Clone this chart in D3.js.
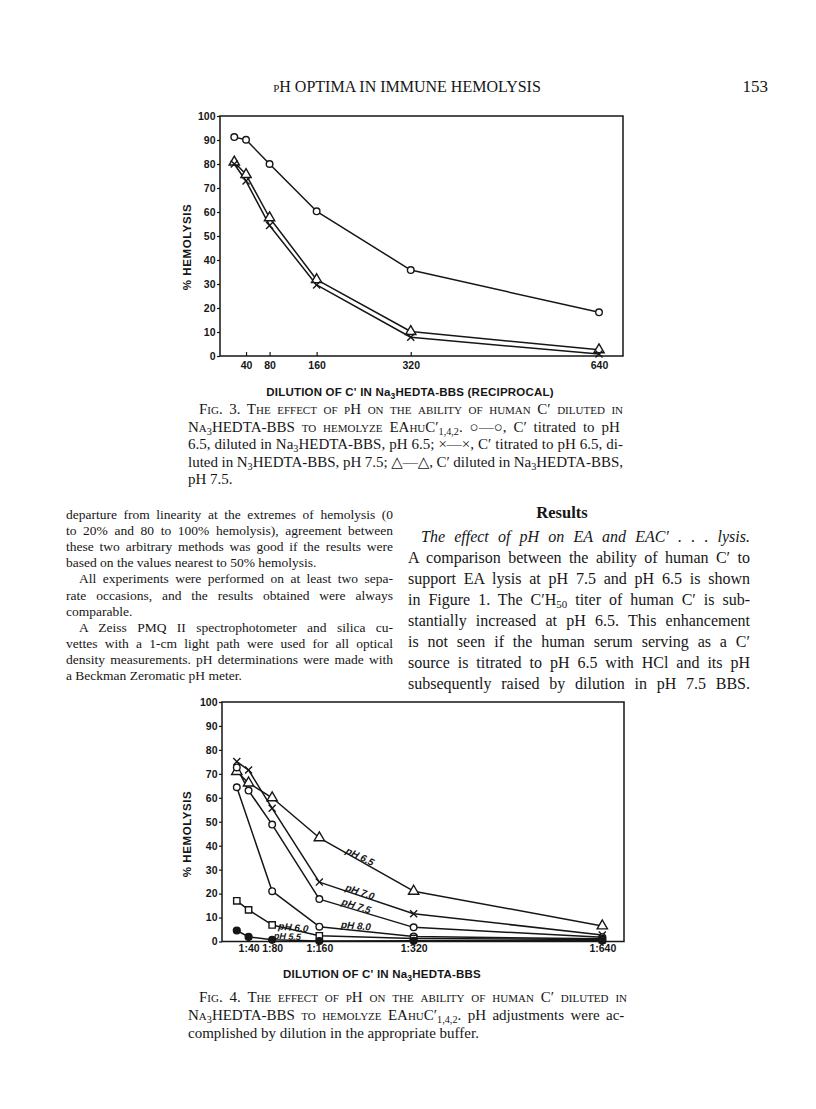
<!DOCTYPE html>
<html>
<head>
<meta charset="utf-8">
<script src="https://cdn.jsdelivr.net/npm/d3@7"></script>
<style>
body { margin: 0; background: #fff; }
svg { display: block; }
</style>
</head>
<body>
<div id="graphic"></div>
<script>
//fig 3 data: reciprocal dilution vs % hemolysis
var fig3Dilution = [20, 40, 80, 160, 320, 640];
var fig3Circle = [91.2, 90.1, 80, 60.3, 35.8, 18.2];     // C' pH 6.5 in pH 6.5 buffer
var fig3Cross = [80, 72.9, 54.4, 29.6, 7.8, 0.8];        // C' pH 6.5 in pH 7.5 buffer
var fig3Triangle = [80.8, 75.6, 57.6, 31.8, 10.2, 2.6];  // C' in pH 7.5 buffer
var fig3Ticks = [40, 80, 160, 320, 640];

//fig 4 data, one list per pH
var fig4Dilution = [20, 40, 80, 160, 320, 640];
var ph65 = [71, 66.2, 60, 43.3, 21, 6.5];
var ph70 = [75.1, 71.6, 55.6, 24.8, 11.6, 2.7];
var ph75 = [72.7, 63, 48.8, 17.7, 5.9, 1.8];
var ph80 = [64.4, null, 21, 6.2, 2.1, 1.1];
var ph60 = [17, 13.2, 6.9, 2.4, 1.3, 0.8];
var ph55 = [4.6, 1.9, 0.7, 0.2, 0.3, 0.4];
var fig4Ticks = [40, 80, 160, 320, 640];
var fig4Names = ["pH 6.5", "pH 7.0", "pH 7.5", "pH 8.0", "pH 6.0", "pH 5.5"];
//where each curve label sits (dilution, %) and its tilt
var fig4LabelAt = [[229, 35.5], [229, 20.7], [223, 14.9], [222, 6.6], [116, 5.9], [106, 2.2]];
var fig4LabelTilt = [26, 19, 18, 5, 6, 3];

var hemolysisTicks = [0, 10, 20, 30, 40, 50, 60, 70, 80, 90, 100];

//page text
var header = "pH OPTIMA IN IMMUNE HEMOLYSIS";
var pageNo = "153";
var fig3Caption = [
    [["Fig. 3. The effect of pH on the ability of human C′ diluted in", "sc"]],
    [["Na", "sc"], ["3", "sub"], ["HEDTA-BBS to hemolyze EAhuC′", "sc"], ["1,4,2", "sub"], [".  ○—○, C′ titrated to pH", "n"]],
    [["6.5, diluted in Na", "n"], ["3", "sub"], ["HEDTA-BBS, pH 6.5; ×—×, C′ titrated to pH 6.5, di-", "n"]],
    [["luted in N", "n"], ["3", "sub"], ["HEDTA-BBS, pH 7.5; △—△, C′ diluted in Na", "n"], ["3", "sub"], ["HEDTA-BBS,", "n"]],
    [["pH 7.5.", "n"]]
];
var fig4Caption = [
    [["Fig. 4. The effect of pH on the ability of human C′ diluted in", "sc"]],
    [["Na", "sc"], ["3", "sub"], ["HEDTA-BBS to hemolyze EAhuC′", "sc"], ["1,4,2", "sub"], [".  pH adjustments were ac-", "n"]],
    [["complished by dilution in the appropriate buffer.", "n"]]
];
var leftColumn = [
    "departure from linearity at the extremes of hemolysis (0",
    "to 20% and 80 to 100% hemolysis), agreement between",
    "these two arbitrary methods was good if the results were",
    "based on the values nearest to 50% hemolysis.",
    "All experiments were performed on at least two sepa-",
    "rate occasions, and the results obtained were always",
    "comparable.",
    "A Zeiss PMQ II spectrophotometer and silica cu-",
    "vettes with a 1-cm light path were used for all optical",
    "density measurements. pH determinations were made with",
    "a Beckman Zeromatic pH meter."
];
var leftIndent = [0, 0, 0, 0, 1, 0, 0, 1, 0, 0, 0];
var leftLast = [0, 0, 0, 1, 0, 0, 1, 0, 0, 0, 1];
var rightColumn = [
    [["The effect of pH on EA and EAC′ . . . lysis.", "i"]],
    [["A comparison between the ability of human C′ to", "n"]],
    [["support EA lysis at pH 7.5 and pH 6.5 is shown", "n"]],
    [["in Figure 1. The C′H", "n"], ["50", "sub"], [" titer of human C′ is sub-", "n"]],
    [["stantially increased at pH 6.5. This enhancement", "n"]],
    [["is not seen if the human serum serving as a C′", "n"]],
    [["source is titrated to pH 6.5 with HCl and its pH", "n"]],
    [["subsequently raised by dilution in pH 7.5 BBS.", "n"]]
];

var ink = "#161616";
var serif = "'Liberation Serif', 'DejaVu Serif', serif";
var sans = "'Liberation Sans', Arial, sans-serif";

var svg = d3.select("#graphic").append("svg")
    .attr("width", 816)
    .attr("height", 1109);

svg.append("rect").attr("width", 816).attr("height", 1109).attr("fill", "#fff");

//writes one line of text, justified to width when asked
function writeLine(x, y, segs, size, width, anchor) {
    var t = svg.append("text")
        .attr("x", x)
        .attr("y", y)
        .attr("fill", ink)
        .attr("text-anchor", anchor || "start")
        .style("font-family", serif)
        .style("font-size", size + "px");
    var full = "";
    segs.forEach(function(s) {
        var ts = t.append("tspan").text(s[0]);
        full += s[0];
        if (s[1] == "sc") ts.style("font-variant", "small-caps");
        if (s[1] == "i") ts.style("font-style", "italic");
        if (s[1] == "b") ts.style("font-weight", "bold");
        if (s[1] == "sub") ts.attr("baseline-shift", "-3").style("font-size", (size * 0.68) + "px");
    });
    if (width) {
        var natural = t.node().getComputedTextLength();
        var spaces = (full.match(/ /g) || []).length;
        if (spaces) t.style("word-spacing", ((width - natural) / spaces) + "px");
    }
    return t;
}

function drawMark(g, type, cx, cy) {
    if (type == "circle" || type == "dot") {
        g.append("circle")
            .attr("cx", cx).attr("cy", cy).attr("r", type == "dot" ? 3.4 : 3.3)
            .attr("fill", type == "dot" ? ink : "#fff")
            .attr("stroke", ink).attr("stroke-width", 1.4);
        return;
    }
    var sym = { triangle: d3.symbolTriangle, square: d3.symbolSquare, cross: d3.symbolX }[type];
    var size = { triangle: 46, square: 40, cross: 34 }[type];
    g.append("path")
        .attr("d", d3.symbol(sym, size)())
        .attr("transform", "translate(" + cx + "," + cy + ")")
        .attr("fill", type == "cross" ? "none" : "#fff")
        .attr("stroke", ink)
        .attr("stroke-width", 1.4);
}

function chart(o) {
    var g = svg.append("g");
    var x = d3.scaleLinear().domain([0, 640]).range(o.xRange);
    var y = d3.scaleLinear().domain([0, 100]).range([o.bottom, o.top]);

    //frame
    g.append("rect")
        .attr("x", o.left).attr("y", o.top)
        .attr("width", o.right - o.left).attr("height", o.bottom - o.top)
        .attr("fill", "none").attr("stroke", ink).attr("stroke-width", 1.5);

    var yAxis = g.append("g")
        .attr("transform", "translate(" + o.left + ",0)")
        .call(d3.axisLeft(y).tickValues(hemolysisTicks).tickSize(3).tickPadding(1.5));
    var xAxis = g.append("g")
        .attr("transform", "translate(0," + o.bottom + ")")
        .call(d3.axisBottom(x).tickValues(o.ticks).tickSize(-4).tickPadding(o.tickPad)
            .tickFormat(o.tickFormat));
    [yAxis, xAxis].forEach(function(a) {
        a.select(".domain").remove();
        a.selectAll("line").attr("stroke", ink).attr("stroke-width", 1.2);
        a.selectAll("text")
            .attr("fill", ink)
            .style("font-family", sans)
            .style("font-weight", "bold")
            .style("font-size", "10.5px");
    });

    var line = d3.line()
        .x(function(d) { return x(d[0]); })
        .y(function(d) { return y(d[1]); });

    o.series.forEach(function(s) {
        var pts = o.dilution.map(function(d, i) { return [d, s.values[i]]; })
            .filter(function(p) { return p[1] != null; });
        g.append("path")
            .attr("d", line(pts))
            .attr("fill", "none")
            .attr("stroke", ink)
            .attr("stroke-width", 1.5)
            .attr("stroke-linejoin", "round");
        s.pts = pts;
    });
    o.series.forEach(function(s) {
        s.pts.forEach(function(p) { drawMark(g, s.mark, x(p[0]), y(p[1])); });
    });

    //axis titles
    var xt = g.append("text")
        .attr("x", o.xTitle[0]).attr("y", o.xTitle[1])
        .attr("text-anchor", "middle")
        .attr("fill", ink)
        .style("font-family", sans).style("font-weight", "bold").style("font-size", "11.5px")
        .style("letter-spacing", "0.2px");
    xt.append("tspan").text(o.xTitleText[0]);
    xt.append("tspan").attr("baseline-shift", "-3").style("font-size", "8.5px").text("3");
    xt.append("tspan").text(o.xTitleText[1]);

    g.append("text")
        .attr("transform", "translate(" + o.yTitle[0] + "," + o.yTitle[1] + ") rotate(-90)")
        .attr("text-anchor", "middle")
        .attr("fill", ink)
        .style("font-family", sans).style("font-weight", "bold").style("font-size", "11.5px")
        .style("letter-spacing", "0.6px")
        .text("% HEMOLYSIS");

    return { x: x, y: y, g: g };
}

function render() {
    //running head
    writeLine(407, 92, [[header, "sc"]], 16, null, "middle");
    writeLine(768, 92, [[pageNo, "n"]], 17, null, "end");

    //figure 3
    chart({
        left: 220, right: 623, top: 116, bottom: 356,
        xRange: [222.5, 599],
        ticks: fig3Ticks, tickPad: 6,
        tickFormat: function(d) { return d; },
        dilution: fig3Dilution,
        series: [
            { values: fig3Circle, mark: "circle" },
            { values: fig3Triangle, mark: "triangle" },
            { values: fig3Cross, mark: "cross" }
        ],
        xTitle: [410, 396],
        xTitleText: ["DILUTION OF C' IN Na", "HEDTA-BBS (RECIPROCAL)"],
        yTitle: [191, 247]
    });

    fig3Caption.forEach(function(segs, i) {
        var last = i == fig3Caption.length - 1;
        var x0 = i == 0 ? 199 : 188;
        writeLine(x0, 414 + i * 17.5, segs, 15, last ? null : 623 - x0);
    });

    //text columns
    leftColumn.forEach(function(t, i) {
        var x0 = leftIndent[i] ? 79 : 66;
        writeLine(x0, 519 + i * 16.1, [[t, "n"]], 13.5, leftLast[i] ? null : 393 - x0);
    });
    writeLine(562, 518, [["Results", "b"]], 16.5, null, "middle");
    rightColumn.forEach(function(segs, i) {
        var x0 = i == 0 ? 421 : 408;
        writeLine(x0, 542 + i * 21, segs, 16, 750 - x0);
    });

    //figure 4
    var c4 = chart({
        left: 222, right: 624, top: 702, bottom: 941.5,
        xRange: [225, 602.3],
        ticks: fig4Ticks, tickPad: 3.5,
        tickFormat: function(d) { return "1:" + d; },
        dilution: fig4Dilution,
        series: [
            { values: ph65, mark: "triangle" },
            { values: ph70, mark: "cross" },
            { values: ph75, mark: "circle" },
            { values: ph80, mark: "circle" },
            { values: ph60, mark: "square" },
            { values: ph55, mark: "dot" }
        ],
        xTitle: [382, 978],
        xTitleText: ["DILUTION OF C' IN Na", "HEDTA-BBS"],
        yTitle: [191, 834]
    });

    c4.g.selectAll(".phlabel")
        .data(fig4Names)
        .enter().append("text")
            .attr("class", "phlabel")
            .attr("transform", function(d, i) {
                var p = fig4LabelAt[i];
                return "translate(" + c4.x(p[0]) + "," + c4.y(p[1]) + ") rotate(" + fig4LabelTilt[i] + ")";
            })
            .attr("text-anchor", "middle")
            .attr("dy", "0.35em")
            .attr("fill", ink)
            .style("font-family", sans)
            .style("font-weight", "bold")
            .style("font-style", "italic")
            .style("font-size", function(d, i) { return i == 5 ? "9px" : "10px"; })
            .text(function(d) { return d; });

    fig4Caption.forEach(function(segs, i) {
        var last = i == fig4Caption.length - 1;
        var x0 = i == 0 ? 199 : 188;
        writeLine(x0, 1002 + i * 18, segs, 15, last ? null : 627 - x0);
    });
}

render();
</script>
</body>
</html>
